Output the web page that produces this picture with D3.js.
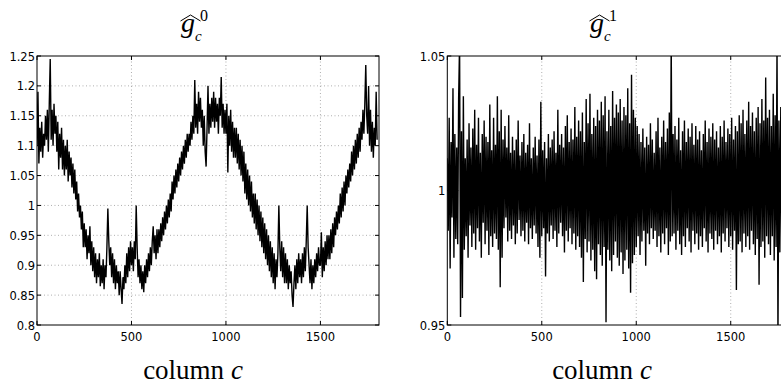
<!DOCTYPE html>
<html>
<head>
<meta charset="utf-8">
<script src="https://cdn.jsdelivr.net/npm/d3@7"></script>
<style>
body { margin: 0; background: #fff; }
svg { display: block; }
.tickLabel { font-family: "DejaVu Sans", "Liberation Sans", Arial, sans-serif; font-size: 11.5px; fill: #000; }
.mathText { font-family: "Liberation Serif", "DejaVu Serif", serif; fill: #000; }
</style>
</head>
<body>
<div id="chart"></div>
<script>

// one value every 5 columns
var columnStep = 5;

var xTicks = [0, 500, 1000, 1500];

var leftTicks = [0.8, 0.85, 0.9, 0.95, 1, 1.05, 1.1, 1.15, 1.2, 1.25];
var leftTickLabels = ["0.8", "0.85", "0.9", "0.95", "1", "1.05", "1.1", "1.15", "1.2", "1.25"];

var rightTicks = [0.95, 1, 1.05];
var rightTickLabels = ["0.95", "1", "1.05"];

// g^0_c
var gain0 = [
    1.10,1.19,1.07,1.13,1.09,1.14,1.08,1.12,1.10,1.15,
    1.11,1.16,1.09,1.17,1.245,1.11,1.16,1.10,1.17,1.12,
    1.15,1.09,1.14,1.06,1.12,1.08,1.13,1.06,1.11,1.05,
    1.10,1.06,1.11,1.04,1.09,1.05,1.08,1.03,1.07,1.02,
    1.06,1.01,1.04,0.99,1.02,0.98,1.00,0.96,0.99,0.93,
    0.97,0.93,0.96,0.91,0.95,0.92,0.965,0.90,0.94,0.89,
    0.93,0.88,0.92,0.87,0.91,0.88,0.92,0.865,0.90,0.87,
    0.91,0.86,0.90,0.88,0.93,0.995,0.94,0.90,0.93,0.88,
    0.92,0.87,0.91,0.86,0.90,0.87,0.89,0.85,0.89,0.86,
    0.835,0.88,0.86,0.90,0.87,0.92,0.88,0.93,0.89,0.94,
    0.90,0.93,0.89,0.94,0.91,1.0,0.93,0.88,0.91,0.87,
    0.90,0.86,0.89,0.855,0.90,0.87,0.91,0.88,0.92,0.89,
    0.93,0.90,0.94,0.965,0.92,0.95,0.91,0.96,0.92,0.96,
    0.93,0.97,0.94,0.98,0.95,0.99,0.96,1.00,0.97,1.01,
    0.98,1.02,0.99,1.04,1.01,1.05,1.02,1.06,1.03,1.07,
    1.04,1.08,1.05,1.09,1.06,1.10,1.07,1.11,1.08,1.12,
    1.09,1.12,1.10,1.14,1.11,1.15,1.12,1.21,1.13,1.17,
    1.12,1.19,1.14,1.18,1.13,1.16,1.10,1.15,1.09,1.065,
    1.13,1.20,1.12,1.17,1.13,1.18,1.14,1.19,1.13,1.18,
    1.14,1.17,1.12,1.18,1.15,1.215,1.13,1.17,1.12,1.16,
    1.12,1.17,1.055,1.15,1.10,1.16,1.09,1.14,1.08,1.13,
    1.08,1.13,1.07,1.12,1.06,1.11,1.05,1.10,1.04,1.09,
    1.02,1.07,1.01,1.06,1.00,1.05,0.99,1.04,0.98,1.02,
    0.97,1.02,0.96,1.01,0.95,1.00,0.94,0.99,0.93,0.98,
    0.92,0.97,0.91,0.96,0.90,0.95,0.89,0.94,0.88,0.93,
    0.87,0.92,0.86,0.91,0.88,0.92,1.00,0.93,0.89,0.94,
    0.88,0.93,0.87,0.92,0.87,0.91,0.86,0.90,0.87,0.89,
    0.85,0.83,0.87,0.90,0.86,0.91,0.87,0.92,0.88,0.91,
    0.87,0.92,0.88,0.93,0.89,0.94,1.00,0.93,0.90,0.87,
    0.91,0.86,0.90,0.87,0.91,0.88,0.92,0.89,0.93,0.90,
    0.90,0.955,0.88,0.93,0.89,0.94,0.90,0.95,0.91,0.95,
    0.91,0.96,0.92,0.97,0.93,0.98,0.95,0.99,0.96,1.00,
    0.97,1.02,0.98,1.03,0.99,1.04,1.00,1.05,1.02,1.06,
    1.03,1.07,1.04,1.09,1.05,1.10,1.06,1.11,1.07,1.12,
    1.08,1.13,1.09,1.14,1.11,1.16,1.12,1.17,1.235,1.15,
    1.12,1.20,1.10,1.16,1.09,1.14,1.08,1.13,1.10,1.19,
    1.11
];

// g^1_c
var gain1 = [
    1.012,0.985,1.027,0.971,1.018,0.990,1.038,0.975,1.021,0.982,
    1.016,0.980,1.034,1.055,0.953,1.022,0.960,1.035,0.978,1.012,
    0.983,1.019,0.975,1.025,0.987,1.016,0.979,1.023,0.984,1.030,
    0.978,1.017,0.986,1.027,0.981,1.014,0.975,1.021,0.988,1.026,
    0.980,1.020,0.985,1.018,0.976,1.032,0.983,1.015,0.979,1.027,
    0.984,1.017,0.982,1.035,0.978,1.022,0.964,1.030,0.975,1.019,
    0.986,1.024,0.990,1.016,0.981,1.028,0.985,1.014,0.982,1.020,
    0.987,1.015,0.980,1.019,0.984,1.026,0.989,1.013,0.983,1.018,
    0.985,1.021,0.981,1.014,0.988,1.017,0.980,1.025,0.986,1.012,
    0.982,1.016,0.987,1.020,0.984,1.013,0.979,1.019,0.975,1.033,
    0.983,1.015,0.986,1.018,0.968,1.012,0.984,1.021,0.981,1.016,
    0.987,1.019,0.982,1.022,0.985,1.014,0.979,1.030,0.984,1.017,
    0.988,1.021,0.983,1.016,0.977,1.024,0.985,1.028,0.981,1.018,
    0.986,1.023,0.980,1.019,0.984,1.031,0.978,1.020,0.983,1.026,
    0.979,1.022,0.975,1.029,0.966,1.018,0.982,1.034,0.977,1.025,
    0.981,1.036,0.974,1.021,0.978,1.027,0.970,1.024,0.967,1.030,
    0.980,1.026,0.976,1.033,0.972,1.028,0.979,1.035,0.951,1.022,
    0.978,1.030,0.974,1.024,0.970,1.037,0.976,1.027,0.981,1.032,
    0.975,1.029,0.972,1.034,0.977,1.026,0.969,1.031,0.974,1.028,
    0.978,1.038,0.971,1.025,0.962,1.043,0.973,1.030,0.976,1.027,
    0.979,1.024,0.983,1.021,0.976,1.018,0.981,1.023,0.985,1.016,
    0.972,1.020,0.984,1.017,0.980,1.025,0.986,1.019,0.982,1.014,
    0.985,1.022,0.979,1.027,0.983,1.016,0.977,1.020,0.984,1.026,
    0.980,1.018,0.986,1.023,0.976,1.029,0.981,1.056,0.983,1.021,
    0.984,1.024,0.978,1.019,0.985,1.027,0.980,1.015,0.976,1.022,
    0.983,1.026,0.979,1.018,0.986,1.023,0.981,1.020,0.977,1.025,
    0.985,1.017,0.980,1.024,0.984,1.019,0.978,1.022,0.983,1.015,
    0.979,1.021,0.986,1.026,0.981,1.018,0.977,1.023,0.984,1.020,
    0.982,1.025,0.978,1.019,0.985,1.022,0.980,1.016,0.983,1.024,
    0.977,1.020,0.984,1.026,0.981,1.018,0.986,1.023,0.979,1.021,
    0.983,1.027,0.978,1.019,0.985,1.024,0.963,1.022,0.980,1.028,
    0.981,1.025,0.977,1.030,0.984,1.021,0.979,1.026,0.983,1.033,
    0.978,1.024,0.985,1.029,0.980,1.022,0.976,1.027,0.982,1.031,
    0.965,1.025,0.979,1.034,0.981,1.026,0.975,1.042,0.983,1.027,
    0.980,1.030,0.976,1.024,0.983,1.036,0.974,1.028,0.979,1.055,
    0.945,1.026,0.977,1.031,0.980,1.024,0.983,1.029,0.978,1.022,
    1.000
];


var width = 781;
var height = 385;

var svg = d3.select("#chart")
    .append("svg")
    .attr("width", width)
    .attr("height", height);


function drawPanel(opt) {

    var x = d3.scaleLinear()
        .domain([0, 1810])
        .range([opt.left, opt.left + 342]);

    var y = d3.scaleLinear()
        .domain(opt.yDomain)
        .range([325, 56]);

    var g = svg.append("g");

    // grid
    g.selectAll(".vgrid")
        .data(xTicks.slice(1))
        .enter()
        .append("line")
            .attr("x1", function(d){ return x(d); })
            .attr("x2", function(d){ return x(d); })
            .attr("y1", y.range()[0])
            .attr("y2", y.range()[1])
            .attr("stroke", "#9a9a9a")
            .attr("stroke-width", 0.8)
            .attr("stroke-dasharray", "1,2.5");

    g.selectAll(".hgrid")
        .data(opt.ticks.slice(1, -1))
        .enter()
        .append("line")
            .attr("x1", x.range()[0])
            .attr("x2", x.range()[1])
            .attr("y1", function(d){ return y(d); })
            .attr("y2", function(d){ return y(d); })
            .attr("stroke", "#9a9a9a")
            .attr("stroke-width", 0.8)
            .attr("stroke-dasharray", "1,2.5");

    g.append("clipPath")
        .attr("id", opt.id)
        .append("rect")
            .attr("x", x.range()[0])
            .attr("y", y.range()[1])
            .attr("width", x.range()[1] - x.range()[0])
            .attr("height", y.range()[0] - y.range()[1]);

    var line = d3.line()
        .x(function(d, i){ return x(i * columnStep); })
        .y(function(d){ return y(d); });

    g.append("path")
        .datum(opt.values)
        .attr("clip-path", "url(#" + opt.id + ")")
        .attr("fill", "none")
        .attr("stroke", "#000")
        .attr("stroke-width", opt.lineWidth)
        .attr("stroke-linejoin", "bevel")
        .attr("d", line);

    // box
    g.append("rect")
        .attr("x", x.range()[0])
        .attr("y", y.range()[1])
        .attr("width", x.range()[1] - x.range()[0])
        .attr("height", y.range()[0] - y.range()[1])
        .attr("fill", "none")
        .attr("stroke", "#000")
        .attr("stroke-width", 1);

    // inward ticks, MATLAB style
    xTicks.forEach(function(t){
        g.append("line").attr("x1", x(t)).attr("x2", x(t))
            .attr("y1", 325).attr("y2", 321).attr("stroke", "#000");
        g.append("line").attr("x1", x(t)).attr("x2", x(t))
            .attr("y1", 56).attr("y2", 60).attr("stroke", "#000");
    });
    opt.ticks.forEach(function(t){
        g.append("line").attr("x1", x.range()[0]).attr("x2", x.range()[0] + 4)
            .attr("y1", y(t)).attr("y2", y(t)).attr("stroke", "#000");
        g.append("line").attr("x1", x.range()[1]).attr("x2", x.range()[1] - 4)
            .attr("y1", y(t)).attr("y2", y(t)).attr("stroke", "#000");
    });

    g.selectAll(".xlab")
        .data(xTicks)
        .enter()
        .append("text")
            .attr("class", "tickLabel")
            .attr("x", function(d){ return x(d); })
            .attr("y", 341)
            .attr("text-anchor", "middle")
            .text(function(d){ return d; });

    g.selectAll(".ylab")
        .data(opt.ticks)
        .enter()
        .append("text")
            .attr("class", "tickLabel")
            .attr("x", x.range()[0] - 2)
            .attr("y", function(d){ return y(d) + 4.5; })
            .attr("text-anchor", "end")
            .text(function(d, i){ return opt.tickLabels[i]; });

    // title: hat g, superscript, subscript c
    var cx = opt.labelX;
    g.append("text")
        .attr("class", "mathText")
        .attr("x", cx - 12)
        .attr("y", 32)
        .attr("font-size", 28)
        .attr("font-style", "italic")
        .text("g");
    g.append("path")
        .attr("d", "M" + (cx - 12.5) + ",21 L" + (cx - 2.5) + ",15 L" + (cx + 7.5) + ",21")
        .attr("fill", "none")
        .attr("stroke", "#000")
        .attr("stroke-width", 1);
    g.append("text")
        .attr("class", "mathText")
        .attr("x", cx + 7)
        .attr("y", 21)
        .attr("font-size", 16)
        .text(opt.sup);
    g.append("text")
        .attr("class", "mathText")
        .attr("x", cx + 2)
        .attr("y", 41)
        .attr("font-size", 15)
        .attr("font-style", "italic")
        .text("c");

    var xl = g.append("text")
        .attr("class", "mathText")
        .attr("x", cx)
        .attr("y", 379)
        .attr("font-size", 27)
        .attr("text-anchor", "middle");
    xl.append("tspan").text("column ");
    xl.append("tspan").attr("font-style", "italic").text("c");
}


drawPanel({
    id: "clipLeft",
    left: 37,
    yDomain: [0.8, 1.25],
    ticks: leftTicks,
    tickLabels: leftTickLabels,
    values: gain0,
    lineWidth: 1.4,
    labelX: 193,
    sup: "0"
});

drawPanel({
    id: "clipRight",
    left: 447.3,
    yDomain: [0.95, 1.05],
    ticks: rightTicks,
    tickLabels: rightTickLabels,
    values: gain1,
    lineWidth: 1.4,
    labelX: 602,
    sup: "1"
});

</script>
</body>
</html>
